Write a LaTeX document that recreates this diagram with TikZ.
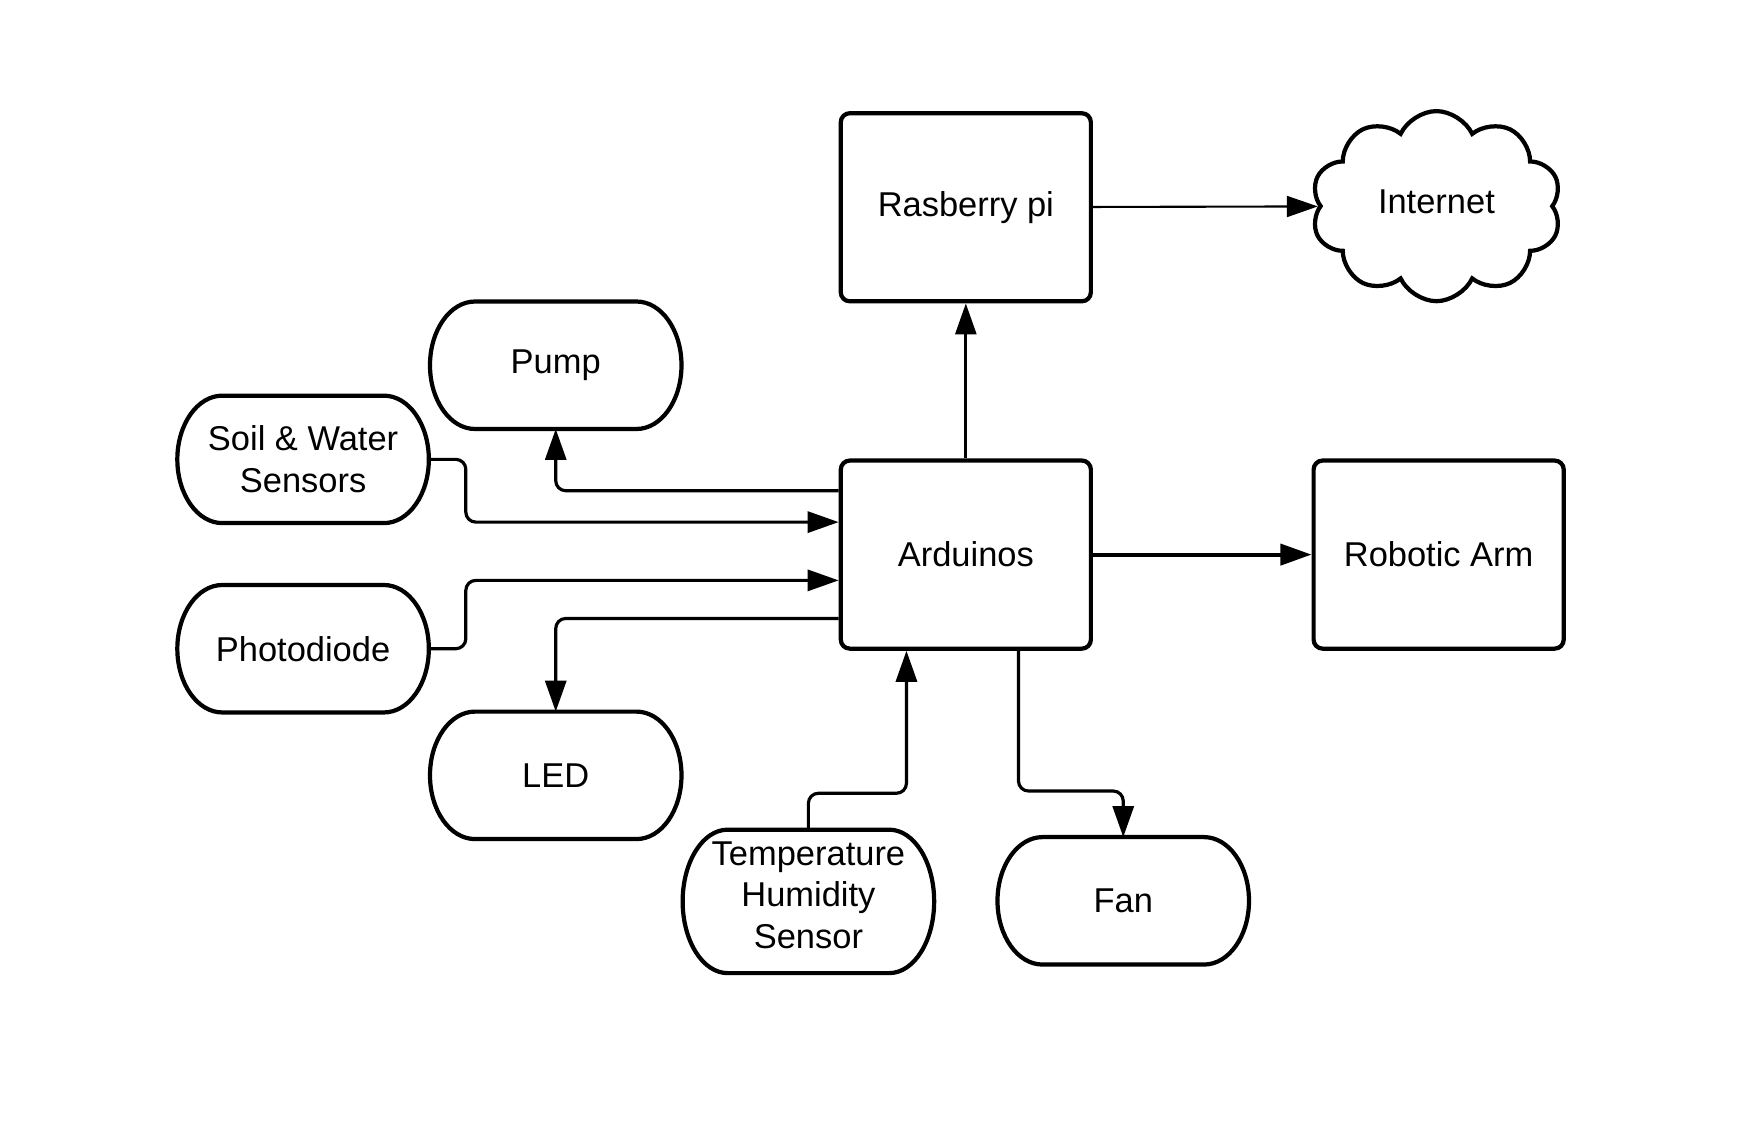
\documentclass[tikz,border=0pt]{standalone}
\usepackage{fontspec}
\setmainfont{Liberation Sans}
\usetikzlibrary{arrows.meta,shapes.symbols,calc}

\newcommand{\capsule}[1]{%
    \draw[line width=1.2pt]
        let \p1 = (#1.north), \p2 = (#1.south), \n1 = {(\y1-\y2)/2} in
        ([xshift=4.5mm]#1.north west) -- ([xshift=-4.5mm]#1.north east)
        arc[start angle=90, end angle=-90, x radius=4.5mm, y radius=\n1]
        -- ([xshift=4.5mm]#1.south west)
        arc[start angle=270, end angle=90, x radius=4.5mm, y radius=\n1]
        -- cycle;}

\begin{document}
\begin{tikzpicture}[
        x=1.12cm, y=1.12cm,
        every node/.style={
            font=\fontsize{9.8}{11.8}\selectfont,
            align=center,
            inner sep=0pt,
        },
        board/.style={
            draw=black,
            line width=1.2pt,
            rounded corners=0.9mm,
            minimum width=2.5cm,
            minimum height=1.88cm,
        },
        oval/.style={
            minimum width=2.5cm,
            minimum height=1.26cm,
        },
        wire/.style={
            line width=0.9pt,
            rounded corners=1mm,
            -{Triangle[length=3.1mm, width=2.1mm]},
        },
    ]

    \useasboundingbox (0, 0) rectangle (15.61, 10.11);

    \node[board] (rpi)   at (8.62, 8.26) {Rasberry pi};
    \node[board] (ard)   at (8.62, 5.16) {Arduinos};
    \node[board] (robot) at (12.84, 5.16) {Robotic Arm};
    \node[cloud, draw, cloud puffs=10, cloud puff arc=130, aspect=1.2,
          line width=1.2pt, minimum width=2.5cm, minimum height=1.9cm]
          (inet) at (12.82, 8.27) {};
    \node at (12.82, 8.31) {Internet};

    \node[oval] (pump)  at (4.96, 6.85)  {Pump};
    \node[oval] (soil)  at (2.705, 6.01) {Soil \& Water\\Sensors};
    \node[oval] (photo) at (2.705, 4.32) {Photodiode};
    \node[oval] (led)   at (4.96, 3.19)  {LED};
    \node[oval, minimum height=1.42cm] (temp) at (7.215, 2.065) {};
    \node at (7.215, 2.12) {Temperature\\Humidity\\Sensor};
    \node[oval] (fan)   at (10.025, 2.07) {Fan};

    \foreach \c in {pump, soil, photo, led, temp, fan}
        \capsule{\c};

    \draw[wire, line width=0.6pt] (rpi) -- (inet);
    \draw[wire, line width=0.8pt] (ard) -- (rpi);
    \draw[wire, line width=1.1pt] (ard) -- (robot);

    \draw[wire] ([yshift=0.57*1.12cm]ard.west) -| (pump.south);
    \draw[wire] (soil.east) -- ++(0.33, 0) |- ([yshift=0.29*1.12cm]ard.west);
    \draw[wire] (photo.east) -- ++(0.33, 0) |- ([yshift=-0.23*1.12cm]ard.west);
    \draw[wire] ([yshift=-0.57*1.12cm]ard.west) -| (led.north);
    \draw[wire] (temp.north) |- (8.09, 3.03) -- ([xshift=-0.53*1.12cm]ard.south);
    \draw[wire] ([xshift=0.47*1.12cm]ard.south) |- (10.025, 3.05) -- (fan.north);

\end{tikzpicture}
\end{document}
